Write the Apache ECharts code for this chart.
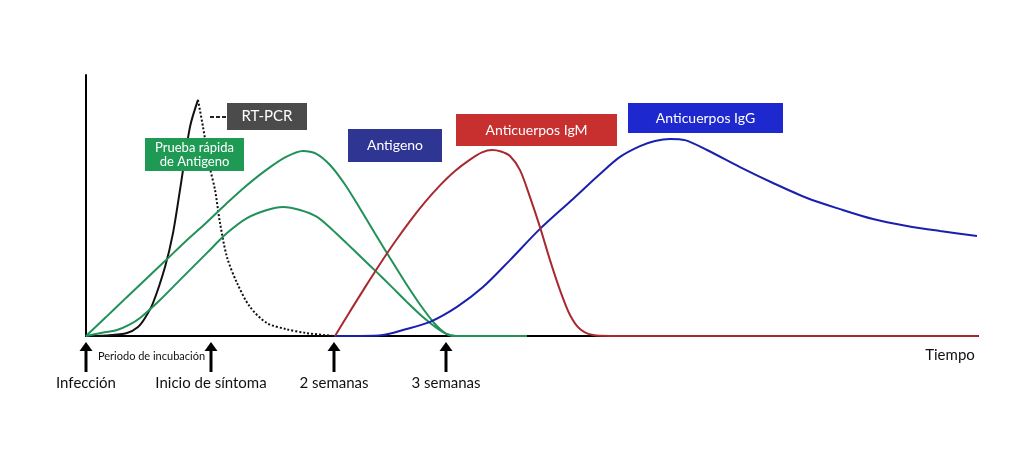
<!DOCTYPE html>
<html>
<head>
<meta charset="utf-8">
<script src="https://cdn.jsdelivr.net/npm/echarts@6/dist/echarts.min.js"></script>
<style>
  html, body { margin: 0; padding: 0; background: #ffffff; }
  #chart { width: 1024px; height: 467px; }
</style>
</head>
<body>
<div id="chart"></div>
<script>
// ---- Data (time and level in arbitrary units) ----
const rtpcrRise = [[0,0],[2,0.2],[4.1,1],[5.2,3],[5.9,6],[6.7,11],[7.9,23],[8.7,34.3],[9.4,48.7],[10.4,69.7],[11.2,78.7]];
const rtpcrFall = [[11.2,78.7],[11.7,69.7],[12.4,56],[12.9,48.7],[13.4,37.7],[14.1,26.3],[15.1,17.7],[16.4,9.7],[18.1,4.3],[20,2.3],[22,1],[24.8,0]];
const rapidTestHigh = [[0,0],[2,6.3],[4,12.7],[6,19],[8,25.3],[10,31.7],[12,37.7],[14,44],[16,50],[18,55.3],[20,59.7],[21.7,61.7],[23,60.8],[24.4,57],[25.9,50.5],[27.4,42.5],[28.9,34.2],[30.4,26],[31.9,18],[33.4,10.5],[34.9,4],[36,0.8],[37,0],[44.1,0]];
const rapidTestLow = [[0,0],[1.5,1],[3.1,2],[4.3,3.7],[5.4,6],[7.4,12],[9.4,18.7],[12.1,27.7],[14.1,34.3],[16.1,39.3],[18.1,42],[19.7,43],[21.4,42],[23.1,39.7],[24.6,35.5],[26.1,30.8],[27.6,26],[29.1,21.2],[30.6,16.3],[32.1,11.3],[33.6,6.6],[35.1,2.6],[36.1,0.6],[37,0],[44.1,0]];
const igm = [[24.9,0],[26.4,8.2],[27.9,16.2],[29.4,24],[30.9,31.4],[32.4,38.3],[33.9,44.6],[35.4,50.2],[36.9,55],[38.4,58.8],[39.6,61.2],[40.6,62],[41.5,61.5],[42.4,60],[43.4,55.3],[44.4,46.3],[45.4,36.3],[46.4,25.3],[47.4,15.3],[48.4,7],[49.4,2.3],[50.7,0.3],[52.4,0],[89.2,0]];
const igg = [[24.8,0],[27.4,0],[29.7,0.3],[31.7,2],[34.4,4.7],[37.1,9.7],[39.7,16.3],[42.4,25.3],[45.4,35.7],[48.7,45.7],[51.4,54],[53.4,59.7],[55.4,63.3],[56.9,65],[58.4,65.7],[59.9,65.3],[62.1,62],[65.4,56.3],[68.7,51],[72.1,46],[75.4,42.3],[78.7,39],[82.1,36.7],[85.4,35],[89.1,33.3]];

const eventX = [0, 12.5, 24.8, 36.0];
const eventLabels = ['Infección', 'Inicio de síntoma', '2 semanas', '3 semanas'];
const incubationLabel = 'Periodo de incubación';
const axisName = 'Tiempo';

const boxLabels = [
  { text: 'RT-PCR', color: '#4b4b4b', x: 227, y: 103, w: 80, h: 27, size: 15 },
  { text: 'Prueba rápida\nde Antigeno', color: '#1f9a55', x: 145, y: 138, w: 99, h: 33, size: 13 },
  { text: 'Antigeno', color: '#2e3592', x: 348, y: 129, w: 94, h: 33, size: 14 },
  { text: 'Anticuerpos IgM', color: '#c7302f', x: 456, y: 114, w: 161, h: 32, size: 14 },
  { text: 'Anticuerpos IgG', color: '#1e28cf', x: 628, y: 103, w: 155, h: 30, size: 14 }
];

const FONT = 'Lato, "Open Sans", sans-serif';
const GREEN = '#21915a';
const RED = '#a82a30';
const BLUE = '#1a1fae';

const chart = echarts.init(document.getElementById('chart'), null, { renderer: 'canvas' });

function lineSeries(name, data, color, type, z) {
  return {
    name, type: 'line', data, smooth: 0.3, symbol: 'none', clip: false, z: z || 2,
    lineStyle: { color, width: 2, type: type || 'solid' }
  };
}

const graphics = [];
boxLabels.forEach(b => {
  graphics.push({
    type: 'rect', shape: { x: b.x, y: b.y, width: b.w, height: b.h },
    style: { fill: b.color }, z: 10
  });
  graphics.push({
    type: 'text', x: b.x + b.w / 2, y: b.y + b.h / 2, z: 11,
    style: { text: b.text, fill: '#ffffff', font: b.size + 'px ' + FONT, align: 'center', verticalAlign: 'middle', lineHeight: b.size + 1 }
  });
});
graphics.push({
  type: 'line', shape: { x1: 210, y1: 117, x2: 226, y2: 117 }, z: 10,
  style: { stroke: '#222', lineWidth: 2, lineDash: [4, 2] }
});

const option = {
  backgroundColor: '#ffffff',
  animation: false,
  grid: { left: 86, right: 46, top: 75, bottom: 131 },
  xAxis: {
    type: 'value', min: 0, max: 89.2,
    axisLine: { show: true, lineStyle: { color: '#000', width: 2 } },
    axisTick: { show: false }, axisLabel: { show: false }, splitLine: { show: false }
  },
  yAxis: {
    type: 'value', min: 0, max: 87,
    axisLine: { show: true, lineStyle: { color: '#000', width: 2 } },
    axisTick: { show: false }, axisLabel: { show: false }, splitLine: { show: false }
  },
  series: [
    lineSeries('RT-PCR', rtpcrRise, '#111', 'solid', 3),
    lineSeries('RT-PCR (descenso)', rtpcrFall, '#111', 'dotted', 3),
    lineSeries('Prueba rápida de Antigeno', rapidTestHigh, GREEN, 'solid', 4),
    lineSeries('Antigeno', rapidTestLow, GREEN, 'solid', 4),
    lineSeries('Anticuerpos IgG', igg, BLUE, 'solid', 5),
    lineSeries('Anticuerpos IgM', igm, RED, 'solid', 6)
  ],
  graphic: graphics
};
chart.setOption(option);

const baseY = chart.convertToPixel({ yAxisIndex: 0 }, 0);
const extra = [];
eventX.forEach((v, i) => {
  const px = chart.convertToPixel({ xAxisIndex: 0 }, v);
  extra.push({
    type: 'polygon', z: 10,
    shape: { points: [[px, baseY + 6], [px - 6.5, baseY + 15], [px + 6.5, baseY + 15]] },
    style: { fill: '#000' }
  });
  extra.push({
    type: 'rect', z: 10,
    shape: { x: px - 1.5, y: baseY + 13, width: 3, height: 23 },
    style: { fill: '#000' }
  });
  extra.push({
    type: 'text', z: 10, x: px, y: baseY + 47,
    style: { text: eventLabels[i], fill: '#111', font: '15px ' + FONT, align: 'center', verticalAlign: 'middle' }
  });
});
const px1 = chart.convertToPixel({ xAxisIndex: 0 }, eventX[0]);
const px2 = chart.convertToPixel({ xAxisIndex: 0 }, eventX[1]);
extra.push({
  type: 'text', z: 10, x: (px1 + px2) / 2 + 3, y: baseY + 20,
  style: { text: incubationLabel, fill: '#111', font: '11px ' + FONT, align: 'center', verticalAlign: 'middle' }
});
const pxEnd = chart.convertToPixel({ xAxisIndex: 0 }, 89.2);
extra.push({
  type: 'text', z: 10, x: pxEnd - 28, y: baseY + 19,
  style: { text: axisName, fill: '#111', font: '15px ' + FONT, align: 'center', verticalAlign: 'middle' }
});
chart.setOption({ graphic: graphics.concat(extra) });
</script>
</body>
</html>
